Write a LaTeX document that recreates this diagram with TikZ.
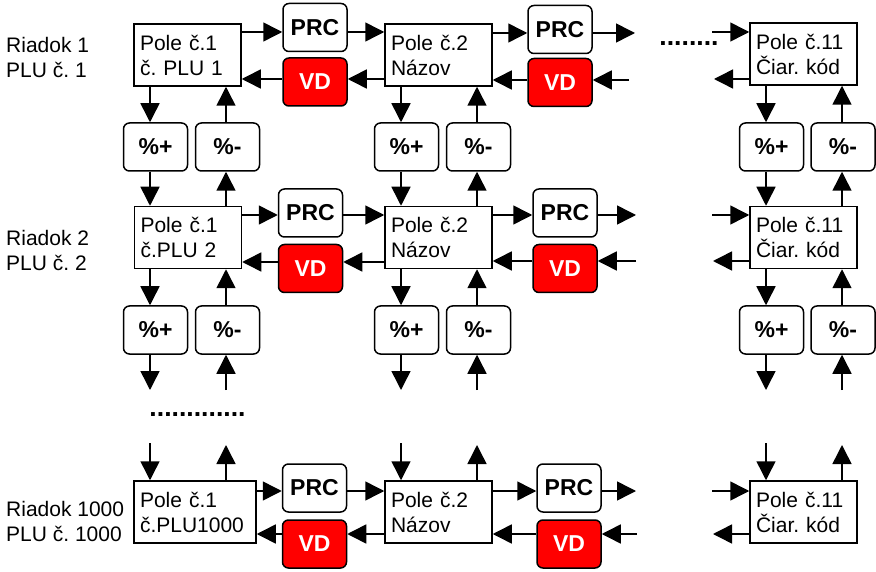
\documentclass[tikz,border=0pt]{standalone}
\usepackage{fontspec}
\setmainfont{Liberation Sans}
\usetikzlibrary{arrows.meta}
\frenchspacing

\tikzset{
  pole/.style={draw, line width=1.5pt, fill=white, align=left, text width=95pt, inner sep=6pt,
    minimum height=62pt, font=\fontsize{21}{25}\selectfont},
  key/.style={draw, line width=1.5pt, rounded corners=6pt, minimum width=64pt, minimum height=48pt,
    inner sep=0pt, font=\fontsize{23}{27}\selectfont\bfseries},
  vd/.style={key, fill=red, text=white},
  rowlabel/.style={anchor=west, align=left, inner sep=0pt, font=\fontsize{21}{25}\selectfont},
  dots/.style={inner sep=0pt, font=\fontsize{26.6}{30}\selectfont\bfseries},
  arr/.style={line width=1.5pt, -{Triangle[length=19pt,width=19pt]}}
}

\begin{document}
\begin{tikzpicture}[x=1pt,y=-1pt]
	\useasboundingbox (0,0) rectangle (876,572);
	% row labels
	\node[rowlabel] (r1) at (6,57) {Riadok 1\\PLU č. 1};
	\node[rowlabel] (r2) at (6,250) {Riadok 2\\PLU č. 2};
	\node[rowlabel] (r3) at (6,521) {Riadok 1000\\PLU č. 1000};

	% row 1
	\node[pole] (p11) at (187.5,55) {Pole č.1\\č. PLU 1};
	\node[pole] (p12) at (438.5,55) {Pole č.2\\Názov};
	\node[pole] (p13) at (803.5,54) {Pole č.11\\Čiar. kód};
	\node[key] (prc11) at (315,27.5) {PRC};
	\node[vd] (vd11) at (315,82) {VD};
	\node[key] (prc12) at (560,29.5) {PRC};
	\node[vd] (vd12) at (560,82.5) {VD};
	\node[key] (pp11) at (155.5,147) {\%+};
	\node[key] (pm11) at (227.5,147) {\%-};
	\node[key] (pp12) at (406.5,147) {\%+};
	\node[key] (pm12) at (478.5,147) {\%-};
	\node[key] (pp13) at (771.5,147) {\%+};
	\node[key] (pm13) at (843,147) {\%-};
	\node[dots] (d1) at (689,44) {........};

	% row 2
	\node[pole] (p21) at (188,237.5) {Pole č.1\\č.PLU 2};
	\node[pole] (p22) at (438.5,237.5) {Pole č.2\\Názov};
	\node[pole] (p23) at (803.5,237.5) {Pole č.11\\Čiar. kód};
	\node[key] (prc21) at (310.5,213) {PRC};
	\node[vd] (vd21) at (310.5,268.5) {VD};
	\node[key] (prc22) at (565,213) {PRC};
	\node[vd] (vd22) at (565,268.5) {VD};
	\node[key] (pp21) at (155.5,330) {\%+};
	\node[key] (pm21) at (227.5,330) {\%-};
	\node[key] (pp22) at (406.5,330) {\%+};
	\node[key] (pm22) at (478.5,330) {\%-};
	\node[key] (pp23) at (771.5,330) {\%+};
	\node[key] (pm23) at (843,330) {\%-};
	\node[dots] (d2) at (197.5,415) {.............};

	% row 3
	\node[pole, text width=110pt] (p31) at (195,512) {Pole č.1\\č.PLU1000};
	\node[pole] (p32) at (438.5,512) {Pole č.2\\Názov};
	\node[pole] (p33) at (803.5,512) {Pole č.11\\Čiar. kód};
	\node[key] (prc31) at (314.5,488) {PRC};
	\node[vd] (vd31) at (314.5,544) {VD};
	\node[key] (prc32) at (569,488) {PRC};
	\node[vd] (vd32) at (569,544) {VD};

	% free ends
	\coordinate (o12) at (635,33);
	\coordinate (i12) at (629,80);
	\coordinate (i13) at (712,32);
	\coordinate (o13) at (714,79);
	\coordinate (o22) at (636,215);
	\coordinate (i22) at (636,261);
	\coordinate (i23) at (712,215);
	\coordinate (o23) at (713,261);
	\coordinate (o32) at (636,491);
	\coordinate (i32) at (637,534);
	\coordinate (i33) at (712,491);
	\coordinate (o33) at (713,534);

	% row 1 arrows
	\draw[arr] (p11.east |- 0,32) -- (prc11.west |- 0,32);
	\draw[arr] (prc11.east |- 0,32) -- (p12.west |- 0,32);
	\draw[arr] (vd11.west |- 0,79) -- (p11.east |- 0,79);
	\draw[arr] (p12.west |- 0,79) -- (vd11.east |- 0,79);
	\draw[arr] (p12.east |- o12) -- (prc12.west |- o12);
	\draw[arr] (prc12.east |- o12) -- (o12);
	\draw[arr] (i12) -- (vd12.east |- i12);
	\draw[arr] (vd12.west |- i12) -- (p12.east |- i12);
	\draw[arr] (i13) -- (p13.west |- i13);
	\draw[arr] (p13.west |- o13) -- (o13);

	% row 2 arrows
	\draw[arr] (p21.east |- 0,215) -- (prc21.west |- 0,215);
	\draw[arr] (prc21.east |- 0,215) -- (p22.west |- 0,215);
	\draw[arr] (vd21.west |- 0,262) -- (p21.east |- 0,262);
	\draw[arr] (p22.west |- 0,262) -- (vd21.east |- 0,262);
	\draw[arr] (p22.east |- o22) -- (prc22.west |- o22);
	\draw[arr] (prc22.east |- o22) -- (o22);
	\draw[arr] (i22) -- (vd22.east |- i22);
	\draw[arr] (vd22.west |- i22) -- (p22.east |- i22);
	\draw[arr] (i23) -- (p23.west |- i23);
	\draw[arr] (p23.west |- o23) -- (o23);

	% row 3 arrows
	\draw[arr] (p31.east |- o32) -- (prc31.west |- o32);
	\draw[arr] (prc31.east |- o32) -- (p32.west |- o32);
	\draw[arr] (vd31.west |- i32) -- (p31.east |- i32);
	\draw[arr] (p32.west |- i32) -- (vd31.east |- i32);
	\draw[arr] (p32.east |- o32) -- (prc32.west |- o32);
	\draw[arr] (prc32.east |- o32) -- (o32);
	\draw[arr] (i32) -- (vd32.east |- i32);
	\draw[arr] (vd32.west |- i32) -- (p32.east |- i32);
	\draw[arr] (i33) -- (p33.west |- i33);
	\draw[arr] (p33.west |- o33) -- (o33);

	% columns: down through %+, up through %-
	\draw[arr] (p11.south -| 150,0) -- (pp11.north -| 150,0);
	\draw[arr] (pp11.south -| 150,0) -- (p21.north -| 150,0);
	\draw[arr] (pm11.north -| 226,0) -- (p11.south -| 226,0);
	\draw[arr] (p21.north -| 226,0) -- (pm11.south -| 226,0);
	\draw[arr] (p12.south -| 401,0) -- (pp12.north -| 401,0);
	\draw[arr] (pp12.south -| 401,0) -- (p22.north -| 401,0);
	\draw[arr] (pm12.north -| 477,0) -- (p12.south -| 477,0);
	\draw[arr] (p22.north -| 477,0) -- (pm12.south -| 477,0);
	\draw[arr] (p13.south -| 766,0) -- (pp13.north -| 766,0);
	\draw[arr] (pp13.south -| 766,0) -- (p23.north -| 766,0);
	\draw[arr] (pm13.north -| 842,0) -- (p13.south -| 842,0);
	\draw[arr] (p23.north -| 842,0) -- (pm13.south -| 842,0);

	\draw[arr] (p21.south -| 150,0) -- (pp21.north -| 150,0);
	\draw[arr] (pp21.south -| 150,0) -- (150,390);
	\draw[arr] (pm21.north -| 226,0) -- (p21.south -| 226,0);
	\draw[arr] (226,390) -- (pm21.south -| 226,0);
	\draw[arr] (p22.south -| 401,0) -- (pp22.north -| 401,0);
	\draw[arr] (pp22.south -| 401,0) -- (401,390);
	\draw[arr] (pm22.north -| 477,0) -- (p22.south -| 477,0);
	\draw[arr] (477,390) -- (pm22.south -| 477,0);
	\draw[arr] (p23.south -| 766,0) -- (pp23.north -| 766,0);
	\draw[arr] (pp23.south -| 766,0) -- (766,390);
	\draw[arr] (pm23.north -| 842,0) -- (p23.south -| 842,0);
	\draw[arr] (842,390) -- (pm23.south -| 842,0);

	\draw[arr] (150,443) -- (p31.north -| 150,0);
	\draw[arr] (p31.north -| 226,0) -- (226,445);
	\draw[arr] (401,443) -- (p32.north -| 401,0);
	\draw[arr] (p32.north -| 477,0) -- (477,445);
	\draw[arr] (766,443) -- (p33.north -| 766,0);
	\draw[arr] (p33.north -| 842,0) -- (842,445);
\end{tikzpicture}
\end{document}
